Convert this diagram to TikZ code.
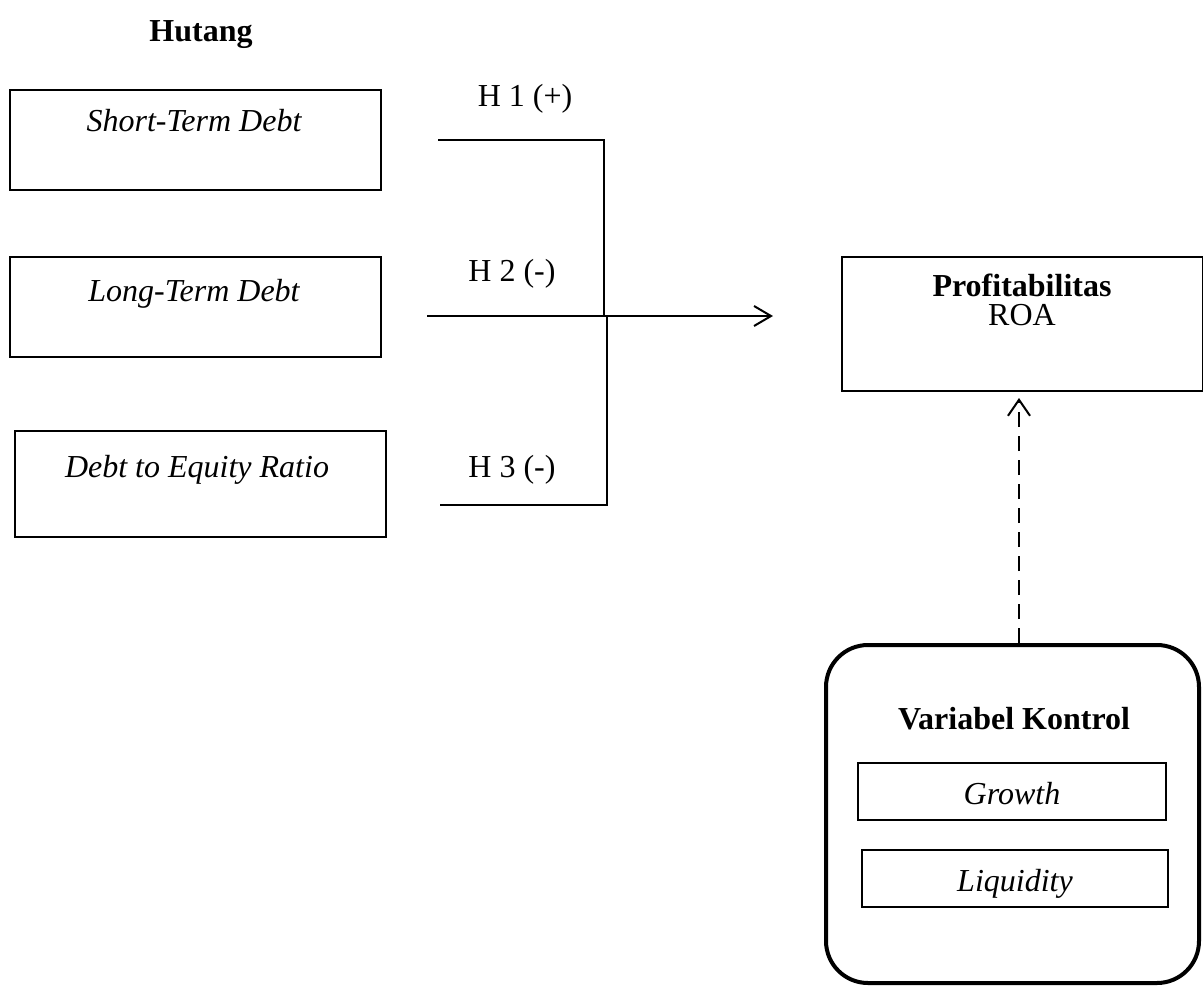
\documentclass[tikz,border=0pt]{standalone}
\usepackage{fontspec}
\setmainfont{Liberation Serif}
\usetikzlibrary{arrows.meta}
\begin{document}
\begin{tikzpicture}[x=1pt,y=-1pt,
  txt/.style={inner sep=0pt,anchor=base,font=\fontsize{32}{36}\selectfont},
  boxthin/.style={draw,line width=1.3pt,inner sep=0pt},
  conn/.style={line width=2pt},
  tip/.style={-{Straight Barb[length=17pt,width=20pt,line width=2pt]}}]
\useasboundingbox (0,0) rectangle (1203,986);
% left boxes
\node[boxthin,minimum width=371pt,minimum height=100pt] (stdbox) at (195.5,140) {};
\node[txt] (stdtxt) at (194,131) {\itshape Short-Term Debt};
\node[boxthin,minimum width=371pt,minimum height=100pt] (ltdbox) at (195.5,307) {};
\node[txt] (ltdtxt) at (194,301) {\itshape Long-Term Debt};
\node[boxthin,minimum width=371pt,minimum height=106pt] (derbox) at (200.5,484) {};
\node[txt] (dertxt) at (197,477) {\itshape Debt to Equity Ratio};
\node[txt] (hutang) at (201,41) {\bfseries Hutang};
% hypothesis labels
\node[txt] (h1) at (525,106) {H 1 (+)};
\node[txt] (h2) at (512,281) {H 2 ({-})};
\node[txt] (h3) at (512,477) {H 3 ({-})};
% profitabilitas
\node[boxthin,minimum width=361pt,minimum height=134pt] (profbox) at (1022.5,324) {};
\node[txt] (proftxt) at (1022,296) {\bfseries Profitabilitas};
\node[txt] (roatxt) at (1022,325) {ROA};
% control variables
\node[draw,line width=4pt,rounded corners=42pt,minimum width=373pt,minimum height=338pt,inner sep=0pt] (ctrl) at (1012.5,814) {};
\node[txt] (ctrltxt) at (1014,729) {\bfseries Variabel Kontrol};
\node[boxthin,minimum width=308pt,minimum height=57pt] (growbox) at (1012,791.5) {};
\node[txt] (growtxt) at (1012,804) {\itshape Growth};
\node[boxthin,minimum width=306pt,minimum height=57pt] (liqbox) at (1015,878.5) {};
\node[txt] (liqtxt) at (1015,891) {\itshape Liquidity};
% connector coordinates
\coordinate (a1) at (438,140);
\coordinate (j1) at (604,140);
\coordinate (a2) at (427,316);
\coordinate (jm) at (605,316);
\coordinate (a3) at (440,505);
\coordinate (j3) at (607,505);
\coordinate (arrend) at (773,316);
\coordinate (dstart) at (1019,643);
\coordinate (dend) at (1019,398);
\draw[conn] (a1) -- (j1) -- (j1 |- jm);
\draw[conn] (a3) -- (j3) -- (j3 |- jm);
\draw[conn] (a2) -- (jm);
\draw[conn,tip] (jm) -- (arrend);
\draw[line width=2pt,dash pattern=on 15pt off 9pt,-{Straight Barb[length=16pt,width=22pt,line width=2pt]}] (dstart) -- (dend);
\end{tikzpicture}
\end{document}
